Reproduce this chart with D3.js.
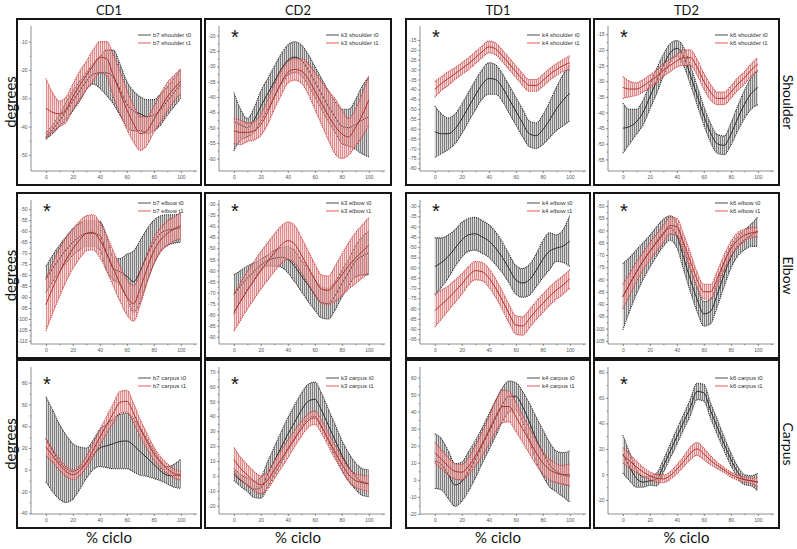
<!DOCTYPE html>
<html><head><meta charset="utf-8">
<script src="https://cdn.jsdelivr.net/npm/d3@7"></script>
<style>body{margin:0;background:#fff}svg{display:block}</style>
</head><body>
<svg id="chart" width="797" height="549"></svg>
<script>
// ---------- data ----------
const groups = ["CD1", "CD2", "TD1", "TD2"];
const subjects = ["b7", "k3", "k4", "k6"];
const joints = ["shoulder", "elbow", "carpus"];
const jointLabels = ["Shoulder", "Elbow", "Carpus"];
const cycle = [0,5,10,15,20,25,30,35,40,45,50,55,60,65,70,75,80,85,90,95,100];
const xTicks = [0,20,40,60,80,100];
const significant = [[false,true,true,true],[true,true,true,true],[true,true,false,true]];

// shoulder
const b7ShoulderT0Mean = [-43.5,-41,-38,-34.5,-31,-27.5,-24,-21.5,-21,-21,-22.5,-27,-32,-34.5,-35.5,-36.5,-36,-34,-31,-28,-25];
const b7ShoulderT0Sd   = [1,1.5,2,3,3.5,3.5,3,3.5,5.5,8,9.5,9,8,7,6,6,5.5,5.5,5,5,5];
const b7ShoulderT1Mean = [-33.5,-35,-35.5,-34,-29.5,-25.5,-22,-18.5,-15.5,-16,-22,-28,-34,-39,-42.5,-41.5,-37.5,-33.5,-29.5,-26.5,-24];
const b7ShoulderT1Sd   = [10.5,7,4.5,4.5,4.5,5,5,5.5,5.5,6,7.5,7.5,7,6.5,6,5,4.5,5,5,4.5,4.5];
const k3ShoulderT0Mean = [-48,-49,-50,-47.5,-43,-39,-35,-31,-28,-27,-28,-31,-35,-39,-43,-46.5,-49.5,-50,-49,-47.5,-46.5];
const k3ShoulderT0Sd   = [9.5,5,3,4,5,5,5,5,5,5,5,5,5,5,5,5,5.5,6,8,11,13];
const k3ShoulderT1Mean = [-51,-51.5,-51.5,-51,-49,-45,-40,-35.5,-32,-31,-31.5,-34,-38,-42,-46,-49.5,-52,-53,-50,-46,-41];
const k3ShoulderT1Sd   = [4,4,3,3,3.5,4,4,4,3.5,3.5,4,5,6,7,8,9,8,6,6,7,8];
const k4ShoulderT0Mean = [-61.5,-62.5,-62.5,-60,-55,-49,-43,-37.5,-34.5,-35,-39,-45,-51,-57,-62.5,-63.5,-60.5,-55.5,-50,-45.5,-42];
const k4ShoulderT0Sd   = [13,10,8,7.5,7.5,7.5,7.5,7.5,8,7.5,7,7,7,7,6.5,6.5,7.5,9,11,13,14];
const k4ShoulderT1Mean = [-40,-37,-34.5,-32,-29.5,-27,-24,-21,-18.5,-19.5,-23,-27,-31,-35,-38,-38,-35.5,-32.5,-30,-28,-26.5];
const k4ShoulderT1Sd   = [4,3.5,3.5,3,3,3,3,3,3,3,3,3,3,3,3,3,3,3,3,3,3.5];
const k6ShoulderT0Mean = [-45,-44.5,-43,-40,-35,-30,-25,-21,-19.5,-22,-28,-34.5,-41,-46.5,-50,-50.5,-47,-42,-37.5,-34,-32];
const k6ShoulderT0Sd   = [8,5.5,4,4,4,4,3.5,3,2.5,3,3,3,3,3,3,3,3.5,4,4.5,5,5.5];
const k6ShoulderT1Mean = [-32,-32.5,-32.5,-31.5,-30,-28.5,-26.5,-25,-23.5,-22.5,-22.5,-25.5,-30,-33.5,-35.5,-35.5,-33.5,-31,-29,-26.5,-24.5];
const k6ShoulderT1Sd   = [3.5,2.5,2,2,2,2,2,2,2,2.5,2.5,2.5,2.5,2.5,2,2,2,2,2,2,2];

// elbow
const b7ElbowT0Mean = [-82,-77,-72.5,-68.5,-65,-62.5,-61,-61,-62,-70,-77,-78.5,-80.5,-83,-78,-71,-65,-61,-59.5,-59,-58.5];
const b7ElbowT0Sd   = [6,6,6,6,6,6,6,6,6.5,8,5,6,10,14,14,12,10,8,7,6.5,6.5];
const b7ElbowT1Mean = [-93.5,-86,-79,-73,-68,-64,-61,-60.5,-64,-70,-77,-84,-90,-93,-86,-77,-69,-64,-61,-59,-57.5];
const b7ElbowT1Sd   = [12,11.5,11,10,9,8.5,8,8,8,8,8,8,8,8,7.5,6.5,6,5.5,5.5,5.5,6];
const k3ElbowT0Mean = [-71,-67,-63.5,-60.5,-57.5,-55.5,-54.5,-54,-55,-58,-62.5,-66.5,-71,-74.5,-75,-71.5,-66,-61,-56,-53.5,-52];
const k3ElbowT0Sd   = [9,7,5.5,4,2.5,2.5,3.5,4.5,6,7,7,7.5,7,7,7,6.5,6,6,7,8.5,10];
const k3ElbowT1Mean = [-79,-74,-69,-64.5,-60,-56,-52,-48.5,-46.5,-48,-53,-58.5,-64,-68.5,-69,-66,-62,-58,-54.5,-51.5,-48.5];
const k3ElbowT1Sd   = [8.5,8.5,8.5,8.5,8.5,8.5,8.5,8.5,8.5,8.5,8,7.5,7,6.5,6.5,8,9.5,10.5,11.5,12,12.5];
const k4ElbowT0Mean = [-59.5,-57.5,-54.5,-50.5,-46.5,-44,-43.5,-45,-47,-50.5,-55,-60.5,-66,-67.5,-66,-61.5,-56,-52,-50.5,-49.5,-47];
const k4ElbowT0Sd   = [14,12,10.5,9,8.5,8,8,8,8,8,7.5,7,7,7,7.5,8,9,9,6.5,8,12.5];
const k4ElbowT1Mean = [-81,-78,-75,-71.5,-68,-64,-61.5,-62,-65,-70,-76,-82.5,-88,-88.5,-85,-81,-77.5,-74,-71,-68.5,-65.5];
const k4ElbowT1Sd   = [8,7,6,5.5,5,4.5,4.5,4.5,4.5,4.5,4.5,4.5,4.5,4.5,4.5,4.5,4.5,4.5,4.5,4.5,4.5];
const k6ElbowT0Mean = [-87,-82,-77,-72.5,-68.5,-64.5,-61,-59,-62,-71,-80,-88,-94,-93,-86,-78,-71,-66.5,-64,-62,-60.5];
const k6ElbowT0Sd   = [13.5,11,9,7.5,6.5,6,5.5,5,5,5,5,5,5,5,5,5,4.5,4,4,4.5,6];
const k6ElbowT1Mean = [-87,-82,-77,-72.5,-68.5,-65,-61.5,-58,-58.5,-65,-72.5,-80,-85,-85,-79.5,-73,-67.5,-64,-62,-61,-60.5];
const k6ElbowT1Sd   = [5,4.5,4,3.5,3.5,3.5,3.5,3.5,3.5,3.5,3.5,3,3,3,3,3,3,3,2.5,2,2];

// carpus
const b7CarpusT0Mean = [28,17.5,7.5,1,-1.5,1.5,6,13.5,20,22,24,26,26.5,22.5,16.5,11,5,-1,-5,-5.5,-3.5];
const b7CarpusT0Sd   = [39,37.5,34.5,31,25.5,19.5,14,13.5,17,20,23,25,25.5,24.5,21.5,17,13,9,8,10.5,13.5];
const b7CarpusT1Mean = [21,13,5,-1.5,-4.5,-1,7,18,30,41,52,62,63,52,38,26,15,7,1,-3.5,-5.5];
const b7CarpusT1Sd   = [8,6,5,4.5,4.5,4.5,5,6,7,8,9,10,10,9,8,7,6,5,4.5,4,4];
const k3CarpusT0Mean = [1,-3,-6,-9,-8,1,10,19,28,36,44,50,51.5,44,34,24,14,6,0,-4,-5];
const k3CarpusT0Sd   = [4,4,4.5,5.5,7,8.5,9.5,10.5,11,11.5,11.5,11.5,11.5,11.5,11,10.5,10,9.5,9,9,9];
const k3CarpusT1Mean = [11,5,0.5,-3.5,-6,-3,4,11,18,25,31.5,37,39,33,24.5,16,8,1,-3,-4.5,-5.5];
const k3CarpusT1Sd   = [8,7.5,7,6.5,6,6,6,6,6,5.5,5,4.5,4.5,4.5,4.5,4.5,4.5,4.5,4.5,5,5];
const k4CarpusT0Mean = [11,9,3,-3,-1,5,12,20,28,36,44,49,49,43,34,24,16,9,5,3,2];
const k4CarpusT0Sd   = [16,15,14,12.5,11.5,11.5,11,10.5,10.5,10.5,10,9,8,9,11,13,13.5,13,12,13,15];
const k4CarpusT1Mean = [16,12,8,5,4.5,8,14,21,29,37,43,43,37,30,23,16,10,6,4,3,3];
const k4CarpusT1Sd   = [6,5.5,5,4.5,4.5,5,6,7,8,9,9.5,9,8.5,8,7.5,7,6.5,6,5.5,5.5,6.5];
const k6CarpusT0Mean = [16,6,-3,-6,-5,-4,6.5,18,29.5,41,52.5,65,64,50,37,24,12,2,-4,-5,-6];
const k6CarpusT0Sd   = [15,11,7,4,3.5,5,5,5.5,6,6,6.5,6.5,6.5,6,6,5.5,5,4.5,4,4,7];
const k6CarpusT1Mean = [15,10.5,6,2,-1,-3,-3.5,-1,4,10,16.5,20,16,11,7,3.5,0,-2.5,-4,-5,-6];
const k6CarpusT1Sd   = [6,5.5,4.5,3.5,3,3,3,3,3.5,4,5,5,4.5,3.5,2.5,2,2,2,2,2,4];

// y axis ranges and tick labels (row = joint, column = group)
const shoulderYDomains = [[-55.7,-5.2],[-64.1,-17.5],[-81.4,-8.9],[-58.7,-13]];
const elbowYDomains    = [[-111.4,-46.7],[-93.3,-29],[-97.3,-28],[-106.3,-48.4]];
const carpusYDomains   = [[-40.6,92.6],[-25.6,71.8],[-20,65],[-31,82.6]];
const shoulderYTicks = [[-50,-40,-30,-20,-10],[-60,-55,-50,-45,-40,-35,-30,-25,-20],[-80,-75,-70,-65,-60,-55,-50,-45,-40,-35,-30,-25,-20,-15],[-55,-50,-45,-40,-35,-30,-25,-20,-15]];
const elbowYTicks = [[-110,-105,-100,-95,-90,-85,-80,-75,-70,-65,-60,-55,-50],[-90,-85,-80,-75,-70,-65,-60,-55,-50,-45,-40,-35,-30],[-95,-90,-85,-80,-75,-70,-65,-60,-55,-50,-45,-40,-35,-30],[-105,-100,-95,-90,-85,-80,-75,-70,-65,-60,-55,-50]];
const carpusYTicks = [[-40,-20,0,20,40,60,80],[-20,-10,0,10,20,30,40,50,60,70],[-20,-10,0,10,20,30,40,50,60],[-20,0,20,40,60,80]];

// ---------- tables built from the arrays ----------
const seriesTable = [
  [[b7ShoulderT0Mean,b7ShoulderT0Sd,b7ShoulderT1Mean,b7ShoulderT1Sd],[k3ShoulderT0Mean,k3ShoulderT0Sd,k3ShoulderT1Mean,k3ShoulderT1Sd],[k4ShoulderT0Mean,k4ShoulderT0Sd,k4ShoulderT1Mean,k4ShoulderT1Sd],[k6ShoulderT0Mean,k6ShoulderT0Sd,k6ShoulderT1Mean,k6ShoulderT1Sd]],
  [[b7ElbowT0Mean,b7ElbowT0Sd,b7ElbowT1Mean,b7ElbowT1Sd],[k3ElbowT0Mean,k3ElbowT0Sd,k3ElbowT1Mean,k3ElbowT1Sd],[k4ElbowT0Mean,k4ElbowT0Sd,k4ElbowT1Mean,k4ElbowT1Sd],[k6ElbowT0Mean,k6ElbowT0Sd,k6ElbowT1Mean,k6ElbowT1Sd]],
  [[b7CarpusT0Mean,b7CarpusT0Sd,b7CarpusT1Mean,b7CarpusT1Sd],[k3CarpusT0Mean,k3CarpusT0Sd,k3CarpusT1Mean,k3CarpusT1Sd],[k4CarpusT0Mean,k4CarpusT0Sd,k4CarpusT1Mean,k4CarpusT1Sd],[k6CarpusT0Mean,k6CarpusT0Sd,k6CarpusT1Mean,k6CarpusT1Sd]]
];
const yDomainTable = [shoulderYDomains, elbowYDomains, carpusYDomains];
const yTickTable = [shoulderYTicks, elbowYTicks, carpusYTicks];

// ---------- layout ----------
const colLeft = [17, 205, 406, 594], colRight = [201, 391, 590, 779];
const rowTop = [19, 193, 360], rowBottom = [185, 358, 528];
const legendDy = [16, 10, 18], starDy = [14, 14, 20];
const colCenter = colLeft.map((l, i) => (l + colRight[i]) / 2);
const rowCenter = rowTop.map((t, i) => (t + rowBottom[i]) / 2);

const styles = [
  {hatch: "#6e6e6e", cap: "#2a2a2a", mean: "#1e1e1e", legend: "#3a3a3a"},
  {hatch: "#e07c7c", cap: "#c23a3a", mean: "#a52828", legend: "#e04848"}
];

const svg = d3.select("#chart");
const defs = svg.append("defs");
styles.forEach((s, i) => {
  const p = defs.append("pattern").attr("id", "hatch" + i)
    .attr("patternUnits", "userSpaceOnUse").attr("width", 2).attr("height", 4);
  p.append("rect").attr("x", 0).attr("y", 0).attr("width", 2).attr("height", 4)
    .attr("fill", s.hatch).attr("fill-opacity", 0.28);
  p.append("rect").attr("x", 0).attr("y", 0).attr("width", 1).attr("height", 4)
    .attr("fill", s.hatch).attr("fill-opacity", 0.85);
});

const fontUI = "Lato, 'Open Sans', sans-serif";
const fontTick = "'Liberation Sans', Arial, sans-serif";

joints.forEach((joint, r) => {
  groups.forEach((grp, c) => {
    const L = colLeft[c], R = colRight[c], T = rowTop[r], B = rowBottom[r];
    const g = svg.append("g");
    const x = d3.scaleLinear().domain([-11, 112]).range([L + 14, L + 180]);
    const y = d3.scaleLinear().domain(yDomainTable[r][c]).range([B - 14, T + 9]);
    const [m0, s0, m1, s1] = seriesTable[r][c];

    // frame
    g.append("rect").attr("x", L).attr("y", T).attr("width", R - L).attr("height", B - T)
      .attr("fill", "none").attr("stroke", "#151515").attr("stroke-width", 2);

    // axes
    const yt = yTickTable[r][c];
    const step = yt[1] - yt[0];
    const yMinor = yt.slice(0, -1).map(v => v + step / 2);
    const ax = g.append("g").attr("transform", `translate(${L + 14},0)`)
      .call(d3.axisLeft(y).tickValues(yt).tickSize(2).tickSizeOuter(0).tickPadding(1.5).tickFormat(d => String(d)));
    g.append("g").attr("transform", `translate(${L + 14},0)`)
      .call(d3.axisLeft(y).tickValues(yMinor).tickSize(1.2).tickSizeOuter(0).tickFormat(""))
      .select(".domain").remove();
    const bx = g.append("g").attr("transform", `translate(0,${B - 14})`)
      .call(d3.axisBottom(x).tickValues(xTicks).tickSize(2).tickSizeOuter(0).tickPadding(2).tickFormat(d => String(d)));
    g.append("g").attr("transform", `translate(0,${B - 14})`)
      .call(d3.axisBottom(x).tickValues([10,30,50,70,90,110]).tickSize(1.2).tickSizeOuter(0).tickFormat(""))
      .select(".domain").remove();
    g.selectAll(".domain").attr("stroke", "#444").attr("stroke-width", 0.6);
    g.selectAll(".tick line").attr("stroke", "#444").attr("stroke-width", 0.6);
    g.selectAll(".tick text").attr("fill", "#555").attr("font-size", 5).attr("font-family", fontTick);
    ax.select(".domain").attr("d", `M0,${T + 7}V${B - 14}`);
    bx.select(".domain").attr("d", `M${L + 14},0H${L + 180}`);

    // series: error-bar band, cap envelopes, mean line
    [[m0, s0], [m1, s1]].forEach(([m, s], k) => {
      const pts = cycle.map((cx, i) => ({x: cx, m: m[i], s: s[i]}));
      const st = styles[k];
      const area = d3.area().curve(d3.curveMonotoneX)
        .x(d => x(d.x)).y0(d => y(d.m - d.s)).y1(d => y(d.m + d.s));
      g.append("path").attr("d", area(pts)).attr("fill", `url(#hatch${k})`);
      const up = d3.line().curve(d3.curveMonotoneX).x(d => x(d.x)).y(d => y(d.m + d.s));
      const lo = d3.line().curve(d3.curveMonotoneX).x(d => x(d.x)).y(d => y(d.m - d.s));
      [up, lo].forEach(fn => g.append("path").attr("d", fn(pts)).attr("fill", "none")
        .attr("stroke", st.cap).attr("stroke-width", 1.1).attr("stroke-dasharray", "1,1"));
      const mean = d3.line().curve(d3.curveMonotoneX).x(d => x(d.x)).y(d => y(d.m));
      g.append("path").attr("d", mean(pts)).attr("fill", "none")
        .attr("stroke", st.mean).attr("stroke-width", 0.9);
    });

    // legend
    ["t0", "t1"].forEach((t, k) => {
      const ly = T + legendDy[r] + k * 8;
      g.append("line").attr("x1", L + 121).attr("x2", L + 134).attr("y1", ly).attr("y2", ly)
        .attr("stroke", styles[k].legend).attr("stroke-width", 0.9);
      g.append("text").attr("x", L + 136).attr("y", ly + 2).attr("font-size", 6)
        .attr("font-family", fontTick).attr("fill", "#333")
        .text(`${subjects[c]} ${joint} ${t}`);
    });

    if (significant[r][c]) {
      g.append("text").attr("x", L + 30).attr("y", T + starDy[r] + 11)
        .attr("text-anchor", "middle").attr("font-size", 20)
        .attr("font-family", fontTick).attr("fill", "#111").text("*");
    }
  });
});

// outer labels
groups.forEach((grp, c) => {
  svg.append("text").attr("x", colCenter[c]).attr("y", 15).attr("text-anchor", "middle")
    .attr("font-size", 13).attr("font-family", fontUI).attr("fill", "#111").text(grp);
  svg.append("text").attr("x", colCenter[c]).attr("y", 543).attr("text-anchor", "middle")
    .attr("font-size", 15).attr("font-family", fontUI).attr("fill", "#111").text("% ciclo");
});
jointLabels.forEach((lab, r) => {
  svg.append("text").attr("transform", `translate(5,${rowCenter[r]}) rotate(-90)`)
    .attr("text-anchor", "middle").attr("dy", "0.75em")
    .attr("font-size", 15).attr("font-family", fontUI).attr("fill", "#111").text("degrees");
  svg.append("text").attr("transform", `translate(793,${rowCenter[r]}) rotate(90)`)
    .attr("text-anchor", "middle").attr("dy", "0.75em")
    .attr("font-size", 14).attr("font-family", fontUI).attr("fill", "#111").text(lab);
});
</script>
</body></html>
